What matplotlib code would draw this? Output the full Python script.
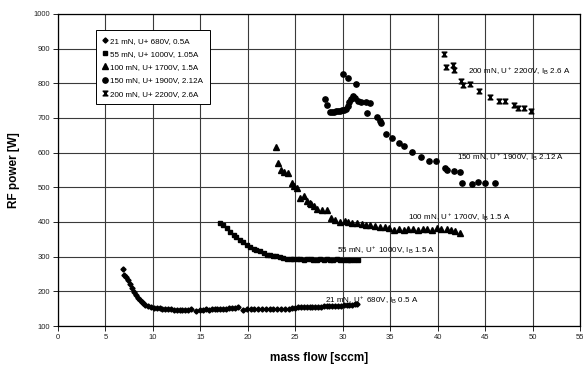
import matplotlib
matplotlib.use("Agg")
import matplotlib.pyplot as plt
from matplotlib.path import Path

plt.rcParams['font.family'] = ['Liberation Sans', 'DejaVu Sans']
plt.rcParams['mathtext.fontset'] = 'custom'
plt.rcParams['mathtext.rm'] = 'Liberation Sans'
plt.rcParams['mathtext.it'] = 'Liberation Sans'
plt.rcParams['mathtext.bf'] = 'Liberation Sans:bold'

# 21 mN, U+ 680V
x21 = [6.8, 7.0, 7.2, 7.4, 7.6, 7.8, 8.0, 8.2, 8.4, 8.6,
       8.8, 9.0, 9.2, 9.5, 9.8, 10.1, 10.4, 10.7, 11.0, 11.3,
       11.6, 11.9, 12.2, 12.5, 12.8, 13.1, 13.4, 13.7, 14.0, 14.5,
       15.0, 15.3, 15.6, 15.9, 16.2, 16.5, 16.8, 17.1, 17.4, 17.7,
       18.0, 18.3, 18.6, 19.0, 19.5, 19.9, 20.3, 20.7, 21.1, 21.5,
       21.9, 22.3, 22.7, 23.1, 23.5, 23.9, 24.3, 24.7, 25.0, 25.3,
       25.6, 25.9, 26.2, 26.5, 26.8, 27.1, 27.4, 27.7, 28.0, 28.3,
       28.6, 28.9, 29.2, 29.5, 29.8, 30.1, 30.4, 30.7, 31.0, 31.3,
       31.5]
y21 = [265, 248, 240, 232, 220, 210, 198, 190, 182, 176,
       170, 166, 162, 158, 155, 153, 152, 151, 150, 149,
       148, 148, 147, 147, 146, 146, 147, 147, 148, 144,
       147, 146, 148, 147, 149, 148, 149, 150, 149, 150,
       152, 151, 153, 154, 146, 150, 149, 150, 148, 149,
       148, 149, 150, 149, 150, 149, 150, 151, 153, 154,
       155, 155, 155, 155, 156, 156, 155, 156, 157, 157,
       157, 158, 158, 158, 159, 160, 160, 161, 162, 163,
       164]

# 55 mN, U+ 1000V
x55 = [17.1, 17.4, 17.8, 18.1, 18.5, 18.8, 19.2, 19.5, 19.9, 20.2,
       20.6, 20.9, 21.3, 21.7, 22.0, 22.3, 22.7, 23.0, 23.4, 23.7,
       24.1, 24.5, 24.8, 25.2, 25.5, 25.9, 26.2, 26.6, 26.9, 27.3,
       27.6, 28.0, 28.3, 28.7, 29.0, 29.4, 29.7, 30.1, 30.5, 30.8,
       31.2, 31.6]
y55 = [398, 390, 382, 372, 363, 356, 348, 341, 334, 327,
       322, 319, 315, 310, 306, 305, 303, 301, 298, 296,
       294, 293, 292, 293, 292, 291, 293, 292, 290, 291,
       292, 291, 292, 291, 290, 292, 291, 290, 291, 290,
       291, 290]

# 100 mN, U+ 1700V
x100 = [23.0, 23.2, 23.5, 23.8, 24.2, 24.6, 24.9, 25.2, 25.5, 25.9,
        26.2, 26.5, 26.7, 27.0, 27.3, 27.8, 28.3, 28.8, 29.2, 29.7,
        30.2, 30.6, 31.0, 31.5, 32.0, 32.4, 32.9, 33.4, 33.9, 34.4,
        34.9, 35.4, 35.9, 36.4, 36.9, 37.4, 37.9, 38.4, 38.9, 39.4,
        39.9, 40.4, 41.0, 41.4, 41.8, 42.4]
y100 = [616, 571, 550, 545, 542, 513, 504, 497, 468, 475,
        460, 454, 452, 445, 437, 435, 435, 412, 406, 401,
        403, 400, 398, 396, 393, 392, 390, 388, 385, 386,
        383, 377, 379, 378, 379, 379, 378, 379, 380, 377,
        382, 380, 379, 378, 375, 369]

# 150 mN, U+ 1900V
x150 = [28.1, 28.3, 28.7, 28.9, 29.1, 29.3, 29.5, 29.7, 29.9, 30.1,
        30.3, 30.5, 30.7, 30.9, 31.1, 31.3, 31.6, 31.9, 32.4, 32.9,
        30.0, 30.6, 31.4,
        32.5, 33.6, 33.9, 34.0, 34.6, 35.2, 35.9, 36.5, 37.3, 38.2,
        39.1, 39.8, 40.8, 41.0, 41.7, 42.4, 42.6, 43.6, 44.2, 45.0,
        46.0]
y150 = [754, 737, 718, 718, 718, 719, 720, 721, 722, 724,
        726, 735, 745, 755, 762, 757, 750, 747, 745, 742,
        827, 815, 798,
        715, 704, 692, 685, 653, 643, 629, 620, 601, 587,
        576, 575, 557, 550, 548, 545, 512, 510, 515, 513,
        513]

# 200 mN, U+ 2200V
x200 = [40.7, 40.9, 41.6, 41.7, 42.5, 42.7, 43.4, 44.4, 45.5, 46.5,
        47.1, 48.0, 48.5, 49.1, 49.8]
y200 = [884, 848, 852, 838, 808, 796, 798, 777, 761, 748,
        748, 738, 729, 729, 719]

legend_labels = ["21 mN, U+ 680V, 0.5A", "55 mN, U+ 1000V, 1.05A",
                 "100 mN, U+ 1700V, 1.5A", "150 mN, U+ 1900V, 2.12A",
                 "200 mN, U+ 2200V, 2.6A"]
curve_labels = [r"21 mN, U$^+$ 680V, I$_B$ 0.5 A", r"55 mN, U$^+$ 1000V, I$_B$ 1.5 A",
                r"100 mN, U$^+$ 1700V, I$_B$ 1.5 A", r"150 mN, U$^+$ 1900V, I$_B$ 2.12 A",
                r"200 mN, U$^+$ 2200V, I$_B$ 2.6 A"]
label_pos = [(28.1, 175), (29.4, 319), (36.9, 415), (42.0, 588), (43.2, 836)]

# hourglass marker for the 200 mN series
hourglass = Path([(-1, 1), (1, 1), (-1, -1), (1, -1), (-1, 1)],
                 [Path.MOVETO, Path.LINETO, Path.LINETO, Path.LINETO, Path.CLOSEPOLY])

fig = plt.figure(figsize=(5.83, 3.67), dpi=100)
ax = fig.add_axes([0.0995, 0.1117, 0.8955, 0.8502])

ax.plot(x21, y21, ls='none', marker='D', ms=2.6, color='black', label=legend_labels[0])
ax.plot(x55, y55, ls='none', marker='s', ms=3.3, color='black', label=legend_labels[1])
ax.plot(x100, y100, ls='none', marker='^', ms=3.8, color='black', label=legend_labels[2])
ax.plot(x150, y150, ls='none', marker='o', ms=3.8, color='black', label=legend_labels[3])
ax.plot(x200, y200, ls='none', marker=hourglass, ms=3.4, color='black', label=legend_labels[4])

for txt, (tx, ty) in zip(curve_labels, label_pos):
    ax.text(tx, ty, txt, fontsize=5.8, va='center', ha='left')

ax.set_xlim(0, 55)
ax.set_ylim(100, 1000)
ax.set_xticks(range(0, 56, 5))
ax.set_yticks(range(100, 1001, 100))
ax.grid(True, color='#3a3a3a', lw=0.8)
ax.set_axisbelow(True)
ax.tick_params(labelsize=5.5, length=3.5, width=0.7, pad=2, colors='#222222')
for s in ax.spines.values():
    s.set_linewidth(0.9)

ax.set_xlabel("mass flow [sccm]", fontsize=8.5, fontweight='bold', labelpad=8)
ax.set_ylabel("RF power [W]", fontsize=8.5, fontweight='bold', labelpad=10)

leg = ax.legend(loc='upper left', bbox_to_anchor=(0.065, 0.96), fontsize=5.8,
                frameon=True, fancybox=False, edgecolor='black', framealpha=1,
                handlelength=0.6, handletextpad=0.4, labelspacing=0.7,
                borderpad=0.8, markerscale=1.0)
leg.get_frame().set_linewidth(0.7)

fig.savefig("out.png", dpi=100)
